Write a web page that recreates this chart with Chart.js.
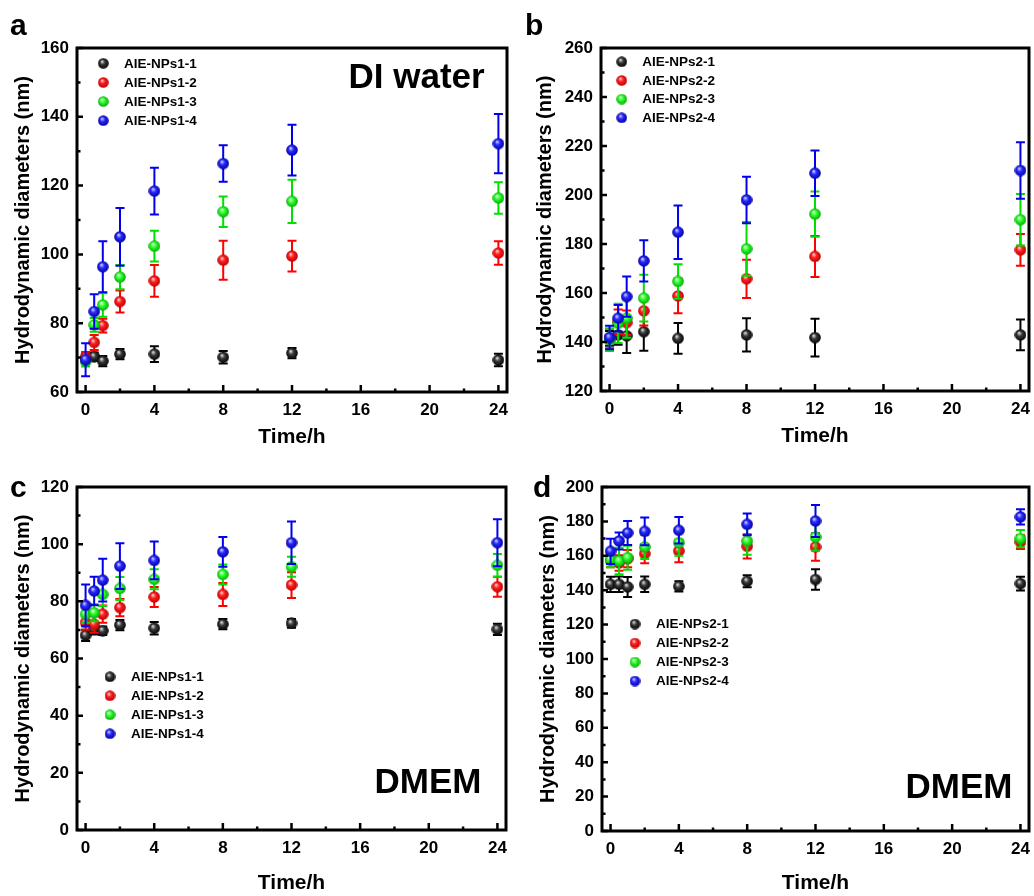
<!DOCTYPE html>
<html>
<head>
<meta charset="utf-8">
<script src="https://cdn.jsdelivr.net/npm/chart.js@4.4.1/dist/chart.umd.min.js"></script>
<style>
  body { margin: 0; background: #fff; }
  #wrap { position: relative; width: 1034px; height: 896px; overflow: hidden;
          font-family: Arial, "Liberation Sans", sans-serif; font-weight: bold; color: #000; }
  .pane { position: absolute; }
  .lbl { position: absolute; line-height: 1; white-space: nowrap; }
</style>
</head>
<body>
<div id="wrap">
  <div class="pane" style="left:0;top:0;width:517px;height:455px"><canvas id="ca"></canvas></div>
  <div class="pane" style="left:517px;top:0;width:517px;height:455px"><canvas id="cb"></canvas></div>
  <div class="pane" style="left:0;top:455px;width:517px;height:441px"><canvas id="cc"></canvas></div>
  <div class="pane" style="left:517px;top:455px;width:517px;height:441px"><canvas id="cd"></canvas></div>

  <div class="lbl" style="left:10px;top:9.6px;font-size:30px">a</div>
  <div class="lbl" style="left:525px;top:9.6px;font-size:30px">b</div>
  <div class="lbl" style="left:10px;top:472px;font-size:30px">c</div>
  <div class="lbl" style="left:533px;top:472px;font-size:30px">d</div>

  <div class="lbl" style="left:348.5px;top:58.4px;font-size:35px">DI water</div>
  <div class="lbl" style="left:374.5px;top:763.4px;font-size:35px">DMEM</div>
  <div class="lbl" style="left:905.5px;top:768.4px;font-size:35px">DMEM</div>
</div>

<script>
// sampling times (h)
const times = [0, 0.5, 1, 2, 4, 8, 12, 24];
const xTicks = [0, 4, 8, 12, 16, 20, 24];

const names1 = ['AIE-NPs1-1', 'AIE-NPs1-2', 'AIE-NPs1-3', 'AIE-NPs1-4'];
const names2 = ['AIE-NPs2-1', 'AIE-NPs2-2', 'AIE-NPs2-3', 'AIE-NPs2-4'];

// a: DI water, AIE-NPs1
const a1 = [69.8, 70.3, 69.0, 71.0, 71.0, 70.1, 71.3, 69.3];
const a1Err = [1.2, 1.2, 1.5, 1.5, 2.3, 1.8, 1.5, 1.8];
const a2 = [70.1, 74.4, 79.3, 86.3, 92.3, 98.3, 99.5, 100.4];
const a2Err = [1.5, 2.2, 2.0, 3.2, 4.6, 5.7, 4.5, 3.4];
const a3 = [68.9, 79.5, 85.3, 93.4, 102.4, 112.4, 115.4, 116.4];
const a3Err = [1.5, 2.0, 3.4, 3.5, 4.5, 4.4, 6.3, 4.6];
const a4 = [69.4, 83.4, 96.4, 105.1, 118.4, 126.4, 130.3, 132.2];
const a4Err = [4.8, 5.0, 7.4, 8.4, 6.8, 5.3, 7.4, 8.6];
const aTicks = [60, 80, 100, 120, 140, 160];

// b: DI water, AIE-NPs2
const b1 = [141.5, 142.9, 142.5, 144.2, 141.5, 142.9, 141.8, 142.9];
const b1Err = [3.0, 4.0, 7.0, 7.8, 6.3, 6.8, 7.7, 6.3];
const b2 = [141.5, 148.3, 147.9, 152.7, 158.8, 165.8, 174.9, 177.6];
const b2Err = [4.0, 5.0, 5.0, 6.0, 7.1, 7.8, 8.4, 6.5];
const b3 = [140.8, 147.6, 149.7, 157.9, 164.7, 178.0, 192.2, 189.9];
const b3Err = [4.5, 8.0, 8.0, 9.5, 7.0, 11.0, 9.2, 10.5];
const b4 = [141.8, 149.7, 158.5, 173.1, 184.8, 198.0, 208.9, 210.0];
const b4Err = [4.8, 5.4, 8.2, 8.4, 10.9, 9.5, 9.3, 11.5];
const bTicks = [120, 140, 160, 180, 200, 220, 240, 260];

// c: DMEM, AIE-NPs1
const c1 = [68.1, 70.2, 69.7, 71.7, 70.6, 72.0, 72.3, 70.2];
const c1Err = [2.0, 1.8, 1.5, 1.8, 2.2, 1.8, 1.5, 2.0];
const c2 = [72.6, 72.0, 75.5, 77.8, 81.5, 82.4, 85.7, 85.1];
const c2Err = [2.5, 3.0, 3.0, 3.0, 3.5, 4.0, 4.5, 3.5];
const c3 = [75.5, 76.0, 82.4, 84.5, 87.7, 89.4, 92.1, 92.6];
const c3Err = [3.0, 3.0, 4.0, 4.0, 3.5, 3.5, 3.5, 4.0];
const c4 = [78.6, 83.6, 87.4, 92.3, 94.3, 97.3, 100.5, 100.5];
const c4Err = [7.3, 5.0, 7.5, 8.0, 6.6, 5.2, 7.4, 8.2];
const cTicks = [0, 20, 40, 60, 80, 100, 120];

// d: DMEM, AIE-NPs2
const d1 = [143.4, 143.4, 141.9, 143.4, 142.2, 145.2, 146.2, 143.8];
const d1Err = [4.4, 4.5, 5.8, 4.5, 3.0, 3.5, 6.0, 4.0];
const d2 = [157.4, 155.8, 158.3, 161.2, 162.8, 165.5, 165.1, 168.0];
const d2Err = [4.0, 4.5, 5.0, 5.5, 6.5, 7.0, 8.0, 4.0];
const d3 = [157.8, 157.0, 158.9, 165.1, 167.6, 168.6, 170.9, 170.0];
const d3Err = [4.5, 7.7, 7.0, 7.0, 7.5, 8.0, 8.0, 5.0];
const d4 = [162.6, 168.6, 173.3, 174.2, 174.8, 178.3, 180.2, 182.6];
const d4Err = [7.3, 5.0, 7.0, 8.0, 7.7, 6.3, 9.3, 4.4];
const dTicks = [0, 20, 40, 60, 80, 100, 120, 140, 160, 180, 200];

const FONT = 'Arial, "Liberation Sans", sans-serif';

// shaded ball markers
function ball(light, base, dark, size) {
  const c = document.createElement('canvas');
  c.width = c.height = size;
  const g = c.getContext('2d');
  const r = size / 2;
  const grad = g.createRadialGradient(r * 0.75, r * 0.65, 0.3, r, r, r);
  grad.addColorStop(0, light);
  grad.addColorStop(0.4, base);
  grad.addColorStop(1, dark);
  g.fillStyle = grad;
  g.beginPath();
  g.arc(r, r, r - 0.2, 0, Math.PI * 2);
  g.fill();
  return c;
}
const balls = [
  ball('#e0e0e0', '#3a3a3a', '#000000', 12),
  ball('#ffd0d0', '#ff2020', '#b80000', 12),
  ball('#e0ffe0', '#30ff30', '#00a800', 12),
  ball('#d0d0ff', '#2828ff', '#0000a0', 12)
];
const legendBalls = [
  ball('#e0e0e0', '#3a3a3a', '#000000', 11),
  ball('#ffd0d0', '#ff2020', '#b80000', 11),
  ball('#e0ffe0', '#30ff30', '#00a800', 11),
  ball('#d0d0ff', '#2828ff', '#0000a0', 11)
];
const errColors = ['#000000', '#ff0000', '#00e000', '#0000ee'];

const errorBars = {
  id: 'errorBars',
  beforeDatasetDraw(chart, args) {
    const ds = chart.data.datasets[args.index];
    if (!ds.errors) return;
    const ctx = chart.ctx, y = chart.scales.y;
    ctx.save();
    ctx.strokeStyle = ds.errColor;
    ctx.lineWidth = 2;
    args.meta.data.forEach((pt, i) => {
      const v = ds.data[i].y, e = ds.errors[i];
      const top = y.getPixelForValue(v + e), bot = y.getPixelForValue(v - e);
      ctx.beginPath();
      ctx.moveTo(pt.x, top); ctx.lineTo(pt.x, bot);
      ctx.moveTo(pt.x - 4.5, top); ctx.lineTo(pt.x + 4.5, top);
      ctx.moveTo(pt.x - 4.5, bot); ctx.lineTo(pt.x + 4.5, bot);
      ctx.stroke();
    });
    ctx.restore();
  }
};

// box frame with inward major/minor ticks
const frame = {
  id: 'frame',
  afterDatasetsDraw(chart) {
    const {ctx, chartArea: ca, scales: {x, y}} = chart;
    ctx.save();
    ctx.strokeStyle = '#000';
    ctx.lineWidth = 2.5;
    ctx.beginPath();
    const xt = x.ticks.map(t => t.value), yt = y.ticks.map(t => t.value);
    xt.forEach((v, i) => {
      const px = x.getPixelForValue(v);
      ctx.moveTo(px, ca.bottom); ctx.lineTo(px, ca.bottom - 7);
      if (i < xt.length - 1) {
        const mx = x.getPixelForValue((v + xt[i + 1]) / 2);
        ctx.moveTo(mx, ca.bottom); ctx.lineTo(mx, ca.bottom - 3.5);
      }
    });
    yt.forEach((v, i) => {
      const py = y.getPixelForValue(v);
      ctx.moveTo(ca.left, py); ctx.lineTo(ca.left + 6, py);
      if (i < yt.length - 1) {
        const my = y.getPixelForValue((v + yt[i + 1]) / 2);
        ctx.moveTo(ca.left, my); ctx.lineTo(ca.left + 3.5, my);
      }
    });
    ctx.stroke();
    ctx.lineWidth = 3;
    ctx.strokeRect(ca.left, ca.top, ca.right - ca.left, ca.bottom - ca.top);
    ctx.restore();
  }
};

const ballLegend = {
  id: 'ballLegend',
  afterDraw(chart, args, opts) {
    if (!opts.labels) return;
    const ctx = chart.ctx;
    ctx.save();
    ctx.font = 'bold 13.5px ' + FONT;
    ctx.fillStyle = '#000';
    ctx.textBaseline = 'middle';
    opts.labels.forEach((name, i) => {
      const yy = opts.y + i * opts.step;
      const b = legendBalls[i];
      ctx.drawImage(b, opts.x - b.width / 2, yy - b.height / 2);
      ctx.fillText(name, opts.textX, yy + 0.5);
    });
    ctx.restore();
  }
};

function makePanel(id, p) {
  const datasets = p.series.map((s, k) => ({
    label: p.names[k],
    data: times.map((t, i) => ({x: t, y: s[i]})),
    errors: p.errs[k],
    errColor: errColors[k],
    pointStyle: balls[k],
    showLine: false,
    order: 3 - k
  }));
  new Chart(document.getElementById(id), {
    type: 'scatter',
    data: {datasets},
    plugins: [errorBars, frame, ballLegend],
    options: {
      responsive: true,
      maintainAspectRatio: false,
      animation: false,
      events: [],
      layout: {padding: p.pad},
      plugins: {
        legend: {display: false},
        tooltip: {enabled: false},
        ballLegend: p.legend
      },
      scales: {
        x: {
          type: 'linear', min: -0.5, max: 24.5,
          afterBuildTicks: s => { s.ticks = xTicks.map(v => ({value: v})); },
          afterFit: s => { s.height = p.xH; s.paddingLeft = 0; s.paddingRight = 0; },
          grid: {display: false, drawTicks: false},
          border: {display: false},
          ticks: {color: '#000', padding: 8, maxRotation: 0, autoSkip: false,
                  font: {family: FONT, size: 17, weight: 'bold'}},
          title: {display: true, text: 'Time/h', color: '#000', padding: {top: 0, bottom: p.xTitlePad},
                  font: {family: FONT, size: 21, weight: 'bold'}}
        },
        y: {
          type: 'linear', min: p.yTicks[0], max: p.yTicks[p.yTicks.length - 1],
          afterBuildTicks: s => { s.ticks = p.yTicks.map(v => ({value: v})); },
          afterFit: s => { s.width = p.yW; s.paddingTop = 0; s.paddingBottom = 0; },
          grid: {display: false, drawTicks: false},
          border: {display: false},
          ticks: {color: '#000', padding: 8, autoSkip: false,
                  font: {family: FONT, size: 17, weight: 'bold'}},
          title: {display: true, text: 'Hydrodynamic diameters (nm)', color: '#000',
                  padding: {top: p.yTitlePad, bottom: 0},
                  font: {family: FONT, size: 20, weight: 'bold'}}
        }
      }
    }
  });
}

makePanel('ca', {
  series: [a1, a2, a3, a4], errs: [a1Err, a2Err, a3Err, a4Err], names: names1,
  yTicks: aTicks, yW: 77, xH: 63, pad: {left: 0, top: 48, right: 10, bottom: 0},
  xTitlePad: 5, yTitlePad: 11,
  legend: {labels: names1, x: 103.3, textX: 124, y: 63.3, step: 19.1}
});
makePanel('cb', {
  series: [b1, b2, b3, b4], errs: [b1Err, b2Err, b3Err, b4Err], names: names2,
  yTicks: bTicks, yW: 84, xH: 64, pad: {left: 0, top: 48, right: 5, bottom: 0},
  xTitlePad: 6, yTitlePad: 16,
  legend: {labels: names2, x: 104.7, textX: 125.3, y: 61.7, step: 18.7}
});
makePanel('cc', {
  series: [c1, c2, c3, c4], errs: [c1Err, c2Err, c3Err, c4Err], names: names1,
  yTicks: cTicks, yW: 77, xH: 66, pad: {left: 0, top: 32, right: 11, bottom: 0},
  xTitlePad: 0, yTitlePad: 11,
  legend: {labels: names1, x: 110, textX: 131, y: 221.7, step: 19}
});
makePanel('cd', {
  series: [d1, d2, d3, d4], errs: [d1Err, d2Err, d3Err, d4Err], names: names2,
  yTicks: dTicks, yW: 85, xH: 65, pad: {left: 0, top: 32, right: 5, bottom: 0},
  xTitlePad: 0, yTitlePad: 19,
  legend: {labels: names2, x: 118, textX: 139, y: 169, step: 19}
});
</script>
</body>
</html>
